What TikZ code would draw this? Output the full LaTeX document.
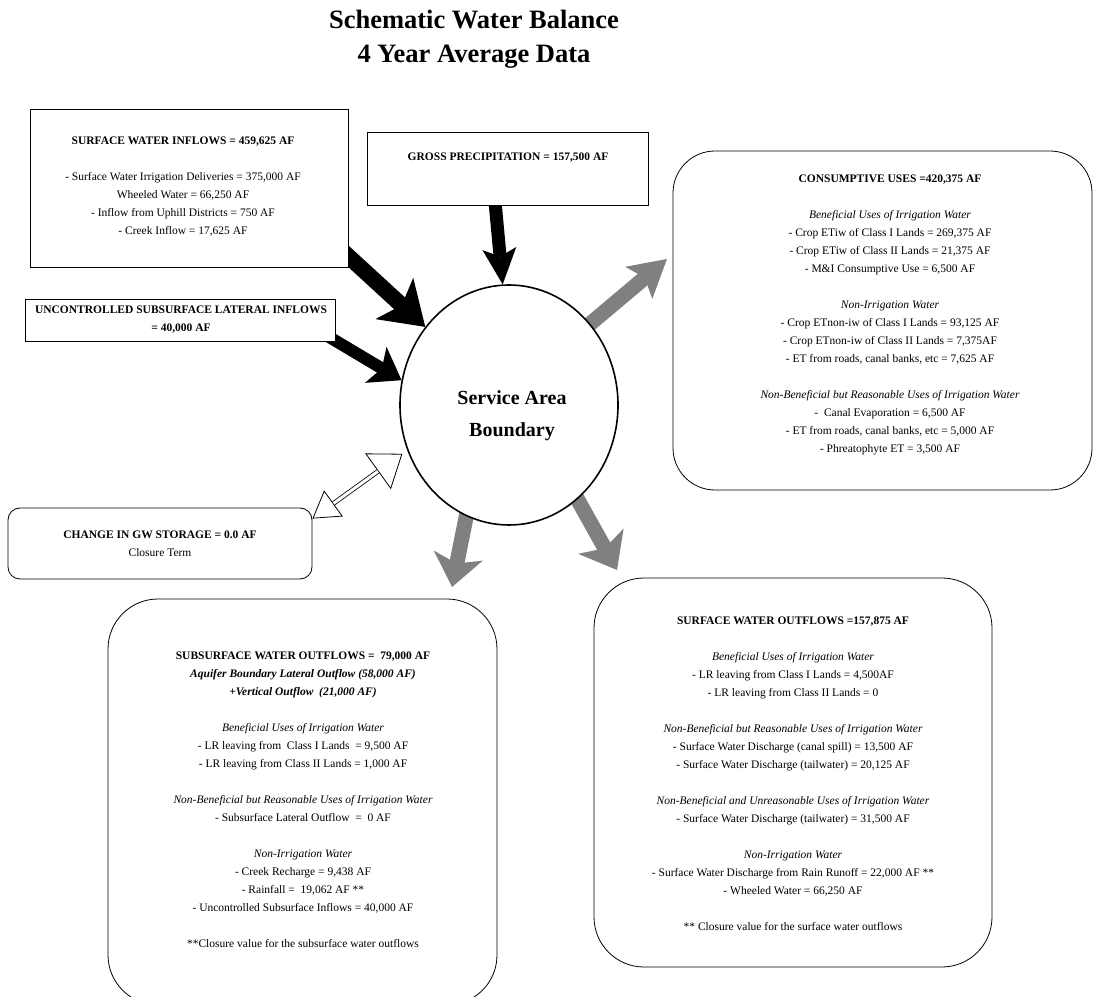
\documentclass[tikz,border=0pt]{standalone}
\usepackage{fontspec}
\setmainfont{Liberation Serif}
\usetikzlibrary{arrows.meta,shapes.geometric}
\pgfdeclarelayer{bg}
\pgfsetlayers{bg,main}
\tikzset{
  box/.style={draw,line width=0.8pt,fill=white,inner sep=0pt},
  txt/.style={align=center,inner sep=0pt,font=\fontsize{11.5}{18}\selectfont},
  inflow/.style={line width=16pt,-{Stealth[length=42pt,width=56pt,inset=10pt,line width=0pt]}},
  outflow/.style={gray,line width=15pt,shorten <=-8pt,-{Stealth[length=34pt,width=46pt,inset=8pt,line width=0pt]}}
}
\begin{document}
\begin{tikzpicture}[x=1pt,y=1pt]
\useasboundingbox (0,0) rectangle (1094,996);
\node (title) at (474,957) [align=center,font=\fontsize{26.5}{34}\selectfont\bfseries] {Schematic Water Balance\\4 Year Average Data};
\node (swin) at (189,808) [box,minimum width=318pt,minimum height=158pt] {};
\node (swintxt) at (183,809) [txt] {\textbf{SURFACE WATER INFLOWS = 459,625 AF}\\[18pt]
  - Surface Water Irrigation Deliveries = 375,000 AF\\
  Wheeled Water = 66,250 AF\\
  - Inflow from Uphill Districts = 750 AF\\
  - Creek Inflow = 17,625 AF};
\node (gp) at (507.5,827.5) [box,minimum width=281pt,minimum height=73pt] {};
\node (gptxt) at (508,838) [txt,font=\fontsize{11.5}{18}\selectfont\bfseries] {GROSS PRECIPITATION = 157,500 AF};
\node (usc) at (180,676) [box,minimum width=310pt,minimum height=42pt] {};
\node (usctxt) at (181,676) [txt,font=\fontsize{11.5}{18}\selectfont\bfseries] {UNCONTROLLED SUBSURFACE LATERAL INFLOWS\\= 40,000 AF};
\node (sab) at (509,591) [ellipse,draw,line width=1.6pt,fill=white,inner sep=0pt,minimum width=218pt,minimum height=240pt] {};
\node (sabtxt) at (512,580) [align=center,font=\fontsize{20}{32}\selectfont\bfseries] {Service Area\\Boundary};
\node (cons) at (882.5,675.5) [box,rounded corners=42pt,minimum width=419pt,minimum height=339pt] {};
\node (constxt) at (890,681.5) [txt] {\textbf{CONSUMPTIVE USES =420,375 AF}\\[18pt]
  \textit{Beneficial Uses of Irrigation Water}\\
  - Crop ETiw of Class I Lands = 269,375 AF\\
  - Crop ETiw of Class II Lands = 21,375 AF\\
  - M\&I Consumptive Use = 6,500 AF\\[18pt]
  \textit{Non-Irrigation Water}\\
  - Crop ETnon-iw of Class I Lands = 93,125 AF\\
  - Crop ETnon-iw of Class II Lands = 7,375AF\\
  - ET from roads, canal banks, etc = 7,625 AF\\[18pt]
  \textit{Non-Beneficial but Reasonable Uses of Irrigation Water}\\
  - \ Canal Evaporation = 6,500 AF\\
  - ET from roads, canal banks, etc = 5,000 AF\\
  - Phreatophyte ET = 3,500 AF};
\node (gw) at (160,452.5) [box,rounded corners=12pt,minimum width=304pt,minimum height=71pt] {};
\node (gwtxt) at (160,452) [txt] {\textbf{CHANGE IN GW STORAGE = 0.0 AF}\\Closure Term};
\node (bl) at (302.5,194) [box,rounded corners=50pt,minimum width=389pt,minimum height=406pt] {};
\node (bltxt) at (303,196) [txt] {\textbf{SUBSURFACE WATER OUTFLOWS = \ 79,000 AF}\\
  \textbf{\textit{Aquifer Boundary Lateral Outflow (58,000 AF)}}\\
  \textbf{\textit{+Vertical Outflow \ (21,000 AF)}}\\[18pt]
  \textit{Beneficial Uses of Irrigation Water}\\
  - LR leaving from \ Class I Lands \ = 9,500 AF\\
  - LR leaving from Class II Lands = 1,000 AF\\[18pt]
  \textit{Non-Beneficial but Reasonable Uses of Irrigation Water}\\
  - Subsurface Lateral Outflow \ = \ 0 AF\\[18pt]
  \textit{Non-Irrigation Water}\\
  - Creek Recharge = 9,438 AF\\
  - Rainfall = \ 19,062 AF **\\
  - Uncontrolled Subsurface Inflows = 40,000 AF\\[18pt]
  **Closure value for the subsurface water outflows};
\node (br) at (793,223.5) [box,rounded corners=50pt,minimum width=398pt,minimum height=389pt] {};
\node (brtxt) at (793,222) [txt] {\textbf{SURFACE WATER OUTFLOWS =157,875 AF}\\[18pt]
  \textit{Beneficial Uses of Irrigation Water}\\
  - LR leaving from Class I Lands = 4,500AF\\
  - LR leaving from Class II Lands = 0\\[18pt]
  \textit{Non-Beneficial but Reasonable Uses of Irrigation Water}\\
  - Surface Water Discharge (canal spill) = 13,500 AF\\
  - Surface Water Discharge (tailwater) = 20,125 AF\\[18pt]
  \textit{Non-Beneficial and Unreasonable Uses of Irrigation Water}\\
  - Surface Water Discharge (tailwater) = 31,500 AF\\[18pt]
  \textit{Non-Irrigation Water}\\
  - Surface Water Discharge from Rain Runoff = 22,000 AF **\\
  - Wheeled Water = 66,250 AF\\[18pt]
  ** Closure value for the surface water outflows};
\coordinate (ctip) at (667,737);
\coordinate (bltip) at (452,409);
\coordinate (brtip) at (617,426);
\begin{pgfonlayer}{bg}
\draw [inflow] ([shift={(-25pt,34pt)}]swin.south east) -- (sab.137);
\draw [inflow,line width=13pt,-{Stealth[length=36pt,width=34pt,inset=8pt,line width=0pt]}] ([shift={(-13pt,9pt)}]gp.south) -- (sab.93);
\draw [inflow,line width=12pt,-{Stealth[length=30pt,width=42pt,inset=7pt,line width=0pt]}] ([shift={(-24pt,15pt)}]usc.south east) -- (sab.167);
\draw [outflow,-{Stealth[length=37pt,width=42pt,inset=8pt,line width=0pt]}] (sab.45) -- (ctip);
\draw [outflow,-{Stealth[length=32pt,width=50pt,inset=8pt,line width=0pt]}] (sab.249) -- (bltip);
\draw [outflow,-{Stealth[length=33pt,width=52pt,inset=8pt,line width=0pt]}] (sab.306) -- (brtip);
\end{pgfonlayer}
\draw [line width=0.8pt,{Triangle[open,length=26pt,width=32pt]}-{Triangle[open,length=30pt,width=44pt]},shorten >=6pt] ([yshift=-11pt]gw.north east) -- (sab.204);
\draw [line width=0.8pt,double=white,double distance=3pt,shorten <=26pt,shorten >=36pt] ([yshift=-11pt]gw.north east) -- (sab.204);
\end{tikzpicture}
\end{document}
